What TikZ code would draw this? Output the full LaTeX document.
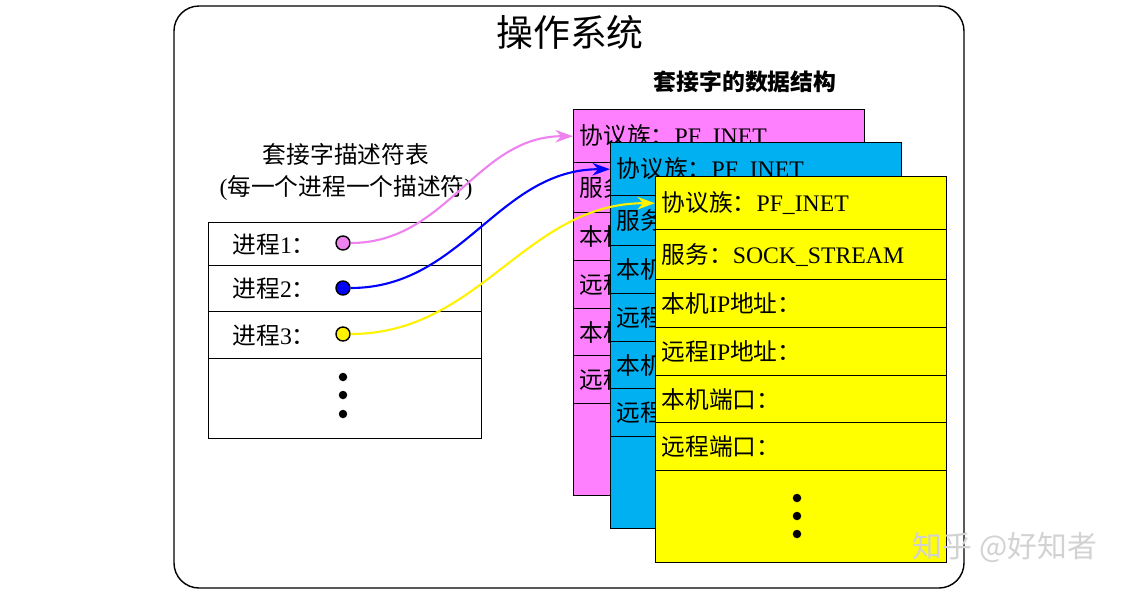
\documentclass[tikz,border=0pt]{standalone}
\usepackage{fontspec}
\setmainfont{Liberation Serif}
\newfontfamily\cjk{Noto Sans CJK SC}
\newcommand\zh[1]{{\cjk #1}}
\usetikzlibrary{arrows.meta}
\definecolor{pinkbox}{RGB}{255,128,255}
\definecolor{bluebox}{RGB}{0,176,240}
\definecolor{yellowbox}{RGB}{255,255,0}
\definecolor{pinkline}{RGB}{238,130,238}
\tikzset{
    row/.style = {
        draw, thick, fill=#1, anchor=north west,
        minimum width=5.82cm, text width=5.58cm, inner xsep=0.12cm,
        align=left, font=\fontsize{13.5}{15}\selectfont,
        },
    proc/.style = {
        draw, thick, fill=white, anchor=north west,
        minimum width=5.46cm, text width=4.5cm, inner xsep=0.48cm,
        align=left, font=\fontsize{13.5}{15}\selectfont,
        },
    slot/.style = {
        circle, draw, thick, fill=#1, minimum size=0.28cm, inner sep=0,
        },
    dot/.style = {
        circle, fill=black, minimum size=0.17cm, inner sep=0,
        },
    link/.style = {
        very thick, -{Stealth[length=0.35cm,width=0.25cm]},
        },
}
\begin{document}
\begin{tikzpicture}[x=0.02cm,y=-0.02cm]
    \useasboundingbox (0,0) rectangle (1144,596);
    \draw[thick, rounded corners=0.5cm] (174,6) rectangle (964,588);
    \node[font=\cjk\fontsize{21}{24}\selectfont] (title) at (570,32) {操作系统};
    \node[font=\cjk\bfseries\fontsize{13}{15}\selectfont] (dshead) at (745,82) {套接字的数据结构};
    \node[font=\fontsize{13.5}{18}\selectfont, align=center] (tbhead) at (346,172)
        {\zh{套接字描述符表}\\(\zh{每一个进程一个描述符})};

    % descriptor table
    \foreach \t/\h/\l in {222/43/1, 265/46/2, 311/47/3}
        \node[proc, minimum height=\h*0.02cm] (r\l) at (208,\t) {\zh{进程}\l\zh{：}};
    \node[proc, minimum height=1.6cm] (r4) at (208,358) {};
    \node[slot=pinkline] (c1) at (343,243) {};
    \node[slot=blue] (c2) at (343,288) {};
    \node[slot=yellow] (c3) at (343,334) {};
    \foreach \y [count=\i] in {377,395,414}
        \node[dot] (d\i) at (343,\y) {};

    % socket structures
    \foreach \x/\y/\c/\n in {573/109/pinkbox/p, 610/142/bluebox/b, 655/176/yellowbox/y}
        \foreach \t/\h/\l [count=\i] in {0/53/{\zh{协议族：}PF\_INET},
                53/50/{\zh{服务：}SOCK\_STREAM}, 103/48/{\zh{本机}IP\zh{地址：}},
                151/48/{\zh{远程}IP\zh{地址：}}, 199/47/{\zh{本机端口：}},
                246/48/{\zh{远程端口：}}, 294/92/{}}
            \node[row=\c, minimum height=\h*0.02cm] (\n\i) at (\x,\y+\t) {\l};
    \foreach \y [count=\i] in {498,516,534}
        \node[dot] (e\i) at (797,\y) {};

    \draw[link, pinkline] (c1) to[out=0, in=180] (p1.west);
    \draw[link, blue] (c2) to[out=0, in=180] (b1.west);
    \draw[link, yellow] (c3) to[out=0, in=180] (y1.west);

    \node[text=gray!35, font=\cjk\fontsize{17}{20}\selectfont] (mark) at (1005,548) {知乎 @好知者};
\end{tikzpicture}
\end{document}
